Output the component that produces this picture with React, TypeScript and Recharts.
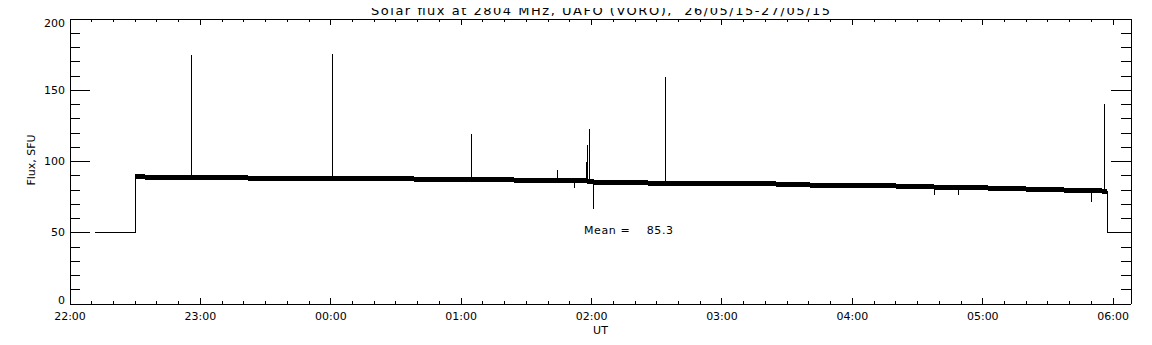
import React from 'react';
import { LineChart, Line, XAxis, YAxis, Label, ReferenceDot } from 'recharts';

// ---- text ----
const TITLE = 'Solar flux at 2804 MHz, UAFO (VORO),  26/05/15-27/05/15';
const Y_TITLE = 'Flux, SFU';
const X_TITLE = 'UT';
const MEAN_TEXT = 'Mean =    85.3';

// ---- axes (x in minutes after 22:00 UT) ----
const X_DOMAIN: [number, number] = [0, 488.2];
const xTicks = [0, 10, 20, 30, 40, 50, 60, 70, 80, 90, 100, 110, 120, 130, 140, 150, 160, 170, 180, 190, 200, 210, 220, 230, 240, 250, 260, 270, 280, 290, 300, 310, 320, 330, 340, 350, 360, 370, 380, 390, 400, 410, 420, 430, 440, 450, 460, 470, 480];
const xMajorTicks = [0, 60, 120, 180, 240, 300, 360, 420, 480];
const xTickLabels = ['22:00', '23:00', '00:00', '01:00', '02:00', '03:00', '04:00', '05:00', '06:00'];
const Y_DOMAIN: [number, number] = [0, 200];
const yTicks = [0, 10, 20, 30, 40, 50, 60, 70, 80, 90, 100, 110, 120, 130, 140, 150, 160, 170, 180, 190, 200];
const yMajorTicks = [0, 50, 100, 150, 200];
const yTickLabels = ['0', '50', '100', '150', '200'];

// ---- data ----
// receiver offline level before / after the observation
const preTimes = [11.5, 30];
const preFlux = [50, 50];
const postTimes = [477.2, 488.2];
const postFlux = [50, 50];

// quiet-sun baseline (noisy band)
const baselineTimes = [30, 60, 120, 180, 215, 237, 241, 270, 290, 320, 335, 345, 380, 400, 420, 440, 460, 477.2];
const baselineFlux = [89.2, 88.6, 88.1, 87.5, 86.8, 86.5, 85.6, 84.8, 84.4, 84.3, 84.0, 83.1, 82.8, 82.0, 81.5, 80.7, 79.9, 79.2];

// bursts / spikes
const spikeTimes = [55.8, 120.7, 184.8, 224.2, 232.0, 237.7, 238.0, 238.9, 240.8, 273.9, 398.0, 408.6, 470.1, 475.9];
const spikePeaks = [174.7, 175.7, 119.3, 94.0, 81.6, 99.9, 111.6, 122.8, 67.0, 159.3, 76.5, 76.5, 71.4, 140.1];
const spikeBases = [88.8, 88.1, 87.5, 86.9, 86.6, 86.5, 86.5, 86.0, 85.6, 84.8, 82.0, 81.8, 79.5, 79.2];

const MEAN_POS = { t: 236.5, v: 51.9 };

type P = { t: number; v: number };
const bandData: P[] = baselineTimes.map((t, i) => ({ t, v: baselineFlux[i] }));

const middle: { t: number; v: number; o: number }[] = [];
baselineTimes.forEach((t, i) => middle.push({ t, v: baselineFlux[i], o: 0 }));
spikeTimes.forEach((t, i) => {
  middle.push({ t, v: spikeBases[i], o: 1 });
  middle.push({ t, v: spikePeaks[i], o: 2 });
  middle.push({ t, v: spikeBases[i], o: 3 });
});
middle.sort((a, b) => (a.t - b.t) || (a.o - b.o));
const fluxData: P[] = [
  ...preTimes.map((t, i) => ({ t, v: preFlux[i] })),
  ...middle.map((p) => ({ t: p.t, v: p.v })),
  ...postTimes.map((t, i) => ({ t, v: postFlux[i] })),
];

const FONT = '"DejaVu Sans", sans-serif';
const INK = '#000';

const BottomTick = (props: any) => {
  const { x, y, payload } = props;
  const v = payload.value;
  const mi = xMajorTicks.indexOf(v);
  const major = mi >= 0;
  return (
    <g>
      <line x1={x} x2={x} y1={y} y2={y - (major ? 6 : 3)} stroke={INK} />
      {major && (
        <text x={x} y={y + 12} textAnchor="middle" dominantBaseline="central" fontSize={11} fontFamily={FONT} fill={INK}>
          {xTickLabels[mi]}
        </text>
      )}
    </g>
  );
};

const TopTick = (props: any) => {
  const { x, y, payload } = props;
  const major = xMajorTicks.indexOf(payload.value) >= 0;
  return <line x1={x} x2={x} y1={y} y2={y + (major ? 6 : 3)} stroke={INK} />;
};

const LeftTick = (props: any) => {
  const { x, y, payload } = props;
  const v = payload.value;
  const mi = yMajorTicks.indexOf(v);
  const major = mi >= 0;
  const shift = v === 200 ? 4 : v === 0 ? -4 : 0;
  return (
    <g>
      <line x1={x} x2={x + (major ? 20 : 10)} y1={y} y2={y} stroke={INK} />
      {major && (
        <text x={x - 5} y={y + shift} textAnchor="end" dominantBaseline="central" fontSize={11} fontFamily={FONT} fill={INK}>
          {yTickLabels[mi]}
        </text>
      )}
    </g>
  );
};

const RightTick = (props: any) => {
  const { x, y, payload } = props;
  const major = yMajorTicks.indexOf(payload.value) >= 0;
  return <line x1={x} x2={x - (major ? 20 : 10)} y1={y} y2={y} stroke={INK} />;
};

const XTitleContent = () => (
  <text x={600.5} y={330} textAnchor="middle" dominantBaseline="central" fontSize={11} fontFamily={FONT} fill={INK}>
    {X_TITLE}
  </text>
);

const YTitleContent = () => (
  <text x={31} y={160} textAnchor="middle" dominantBaseline="central" fontSize={11} fontFamily={FONT} fill={INK}
    transform="rotate(-90 31 160)">
    {Y_TITLE}
  </text>
);

const MeanContent = (props: any) => {
  const vb = props.viewBox || {};
  const x = vb.x ?? 584;
  const y = (vb.y ?? 230) + (vb.height ?? 0) / 2;
  return (
    <text x={x} y={y} textAnchor="start" dominantBaseline="central" fontSize={11} fontFamily={FONT} fill={INK}
      textLength={89} lengthAdjust="spacing" style={{ whiteSpace: 'pre' }}>
      {MEAN_TEXT}
    </text>
  );
};

export default function App() {
  return (
    <div style={{ margin: -8, width: 1152, height: 345, background: '#fff', position: 'relative', shapeRendering: 'crispEdges' } as any}>
      <LineChart width={1152} height={345} margin={{ top: 0, right: 0, bottom: 0, left: 0 }}>
        <XAxis xAxisId="b" dataKey="t" type="number" orientation="bottom" height={41} domain={X_DOMAIN} allowDataOverflow
          ticks={xTicks} interval={0} tickSize={0} tickMargin={0} tickLine={false} tick={<BottomTick />}
          axisLine={{ stroke: INK }}>
          <Label content={<XTitleContent />} />
        </XAxis>
        <XAxis xAxisId="t" dataKey="t" type="number" orientation="top" height={19} domain={X_DOMAIN} allowDataOverflow
          ticks={xTicks} interval={0} tickSize={0} tickMargin={0} tickLine={false} tick={<TopTick />}
          axisLine={{ stroke: INK }} />
        <YAxis yAxisId="l" type="number" orientation="left" width={70} domain={Y_DOMAIN} allowDataOverflow
          ticks={yTicks} interval={0} tickSize={0} tickMargin={0} tickLine={false} tick={<LeftTick />}
          axisLine={{ stroke: INK }}>
          <Label content={<YTitleContent />} />
        </YAxis>
        <YAxis yAxisId="r" type="number" orientation="right" width={21} domain={Y_DOMAIN} allowDataOverflow
          ticks={yTicks} interval={0} tickSize={0} tickMargin={0} tickLine={false} tick={<RightTick />}
          axisLine={{ stroke: INK }} />
        <Line xAxisId="b" yAxisId="l" data={bandData} dataKey="v" type="linear" stroke={INK} strokeWidth={5}
          dot={false} activeDot={false} isAnimationActive={false} />
        <Line xAxisId="t" yAxisId="r" data={fluxData} dataKey="v" type="linear" stroke={INK} strokeWidth={1}
          dot={false} activeDot={false} isAnimationActive={false} />
        <ReferenceDot xAxisId="b" yAxisId="l" x={MEAN_POS.t} y={MEAN_POS.v} r={0} stroke="none" fill="none"
          label={<MeanContent />} />
      </LineChart>
      <svg width={1152} height={19} style={{ position: 'absolute', left: 0, top: 0, pointerEvents: 'none', overflow: 'visible' }}>
        <text x={600.5} y={15} textAnchor="middle" fontSize={13} fontFamily={FONT} fill={INK}
          textLength={459} lengthAdjust="spacing" style={{ whiteSpace: 'pre' }}>
          {TITLE}
        </text>
      </svg>
    </div>
  );
}
